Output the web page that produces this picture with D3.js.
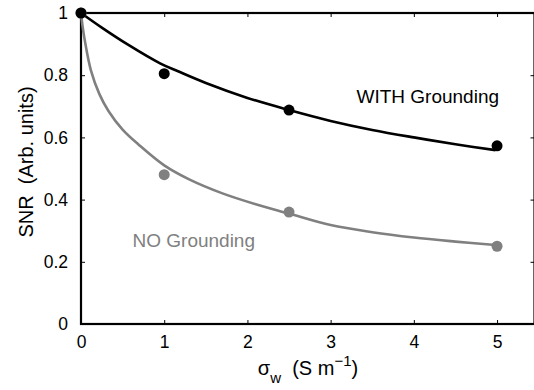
<!DOCTYPE html>
<html><head><meta charset="utf-8">
<script src="https://cdn.jsdelivr.net/npm/d3@7"></script>
<style>body{margin:0;background:#fff}svg{display:block}text{font-family:"Liberation Sans",Arial,Helvetica,sans-serif;white-space:pre}</style>
</head><body><svg id="c" width="534" height="390"></svg>
<script>
// measured points
const sigma = [0, 1, 2.5, 5];
const withGround = [1, 0.805, 0.688, 0.573];
const noGround = [1, 0.48, 0.36, 0.25];
// fitted curves
const fitX_with = [0, 0.25, 0.565, 0.95, 1.166, 1.5, 2, 2.5, 3, 3.5, 4, 4.5, 4.98];
const fitY_with = [1, 0.953, 0.898, 0.838, 0.8125, 0.775, 0.727, 0.688, 0.653, 0.624, 0.600, 0.578, 0.559];
const fitX_no = [0, 0.02, 0.05, 0.12, 0.22, 0.33, 0.5, 0.7, 1.0, 1.3, 1.7, 2.1, 2.5, 3.0, 3.5, 4, 4.5, 4.98];
const fitY_no = [1, 0.955, 0.905, 0.815, 0.74, 0.685, 0.625, 0.575, 0.51, 0.465, 0.42, 0.385, 0.355, 0.318, 0.295, 0.278, 0.265, 0.254];
const xTicks = [0, 1, 2, 3, 4, 5];
const yTicks = [0, 0.2, 0.4, 0.6, 0.8, 1];
const yTickLabels = ["0", "0.2", "0.4", "0.6", "0.8", "1"];

const svg = d3.select("#c");
const L = 81, R = 534.5, T = 13, B = 324;
const x = d3.scaleLinear().domain([0, 5.45]).range([L, R]);
const y = d3.scaleLinear().domain([0, 1]).range([B, T]);

const g = svg.append("g");
const tk = 4;
const axB = d3.axisBottom(x).tickValues(xTicks).tickSize(-tk).tickPadding(tk + 8).tickFormat(d3.format("d"));
const axL = d3.axisLeft(y).tickValues(yTicks).tickSize(-tk).tickPadding(tk + 9).tickFormat((d, i) => yTickLabels[i]);
const axT = d3.axisTop(x).tickValues(xTicks).tickSize(-tk).tickFormat("");
const axR = d3.axisRight(y).tickValues(yTicks).tickSize(-tk).tickFormat("");
function style(sel) {
  sel.select(".domain").remove();
  sel.selectAll("line").attr("stroke", "#000").attr("stroke-width", 1);
  sel.selectAll("text").attr("font-size", 17.5).attr("fill", "#000").attr("font-family", '"Liberation Sans",Arial,sans-serif');
}
g.append("g").attr("transform", `translate(0,${B})`).call(axB).call(style);
g.append("g").attr("transform", `translate(${L},0)`).call(axL).call(style);
g.append("g").attr("transform", `translate(0,${T})`).call(axT).call(style);
g.append("g").attr("transform", `translate(${R},0)`).call(axR).call(style);
g.append("rect").attr("x", L).attr("y", T).attr("width", R - L).attr("height", B - T)
  .attr("fill", "none").attr("stroke", "#000").attr("stroke-width", 2.2);

const line = d3.line().x(d => x(d[0])).y(d => y(d[1])).curve(d3.curveCatmullRom.alpha(0.5));
svg.append("path").datum(fitX_no.map((v, i) => [v, fitY_no[i]])).attr("d", line)
  .attr("fill", "none").attr("stroke", "#808080").attr("stroke-width", 2.6);
svg.append("path").datum(fitX_with.map((v, i) => [v, fitY_with[i]])).attr("d", line)
  .attr("fill", "none").attr("stroke", "#000").attr("stroke-width", 2.6);

svg.selectAll(".pn").data(sigma).enter().append("circle")
  .attr("cx", d => x(d)).attr("cy", (d, i) => y(noGround[i])).attr("r", 5.5).attr("fill", "#808080");
svg.selectAll(".pw").data(sigma).enter().append("circle")
  .attr("cx", d => x(d)).attr("cy", (d, i) => y(withGround[i])).attr("r", 5.5).attr("fill", "#000");

svg.append("text").attr("x", 356.5).attr("y", 102.5).attr("font-size", 19).attr("fill", "#000").text("WITH Grounding");
svg.append("text").attr("x", 132.5).attr("y", 246.5).attr("font-size", 19).attr("fill", "#808080").text("NO Grounding");

svg.append("text").attr("transform", "translate(33,162) rotate(-90)").attr("text-anchor", "middle")
  .attr("font-size", 20).attr("fill", "#000").text("SNR  (Arb. units)");

const xl = svg.append("text").attr("x", 308).attr("y", 375).attr("text-anchor", "middle")
  .attr("font-size", 20).attr("fill", "#000");
xl.append("tspan").text("σ");
xl.append("tspan").attr("dy", 8).attr("font-size", 15).text("w");
xl.append("tspan").attr("dy", -8).text("  (S m");
xl.append("tspan").attr("dy", -9).attr("font-size", 15).text("−1");
xl.append("tspan").attr("dy", 9).text(")");
</script></body></html>
